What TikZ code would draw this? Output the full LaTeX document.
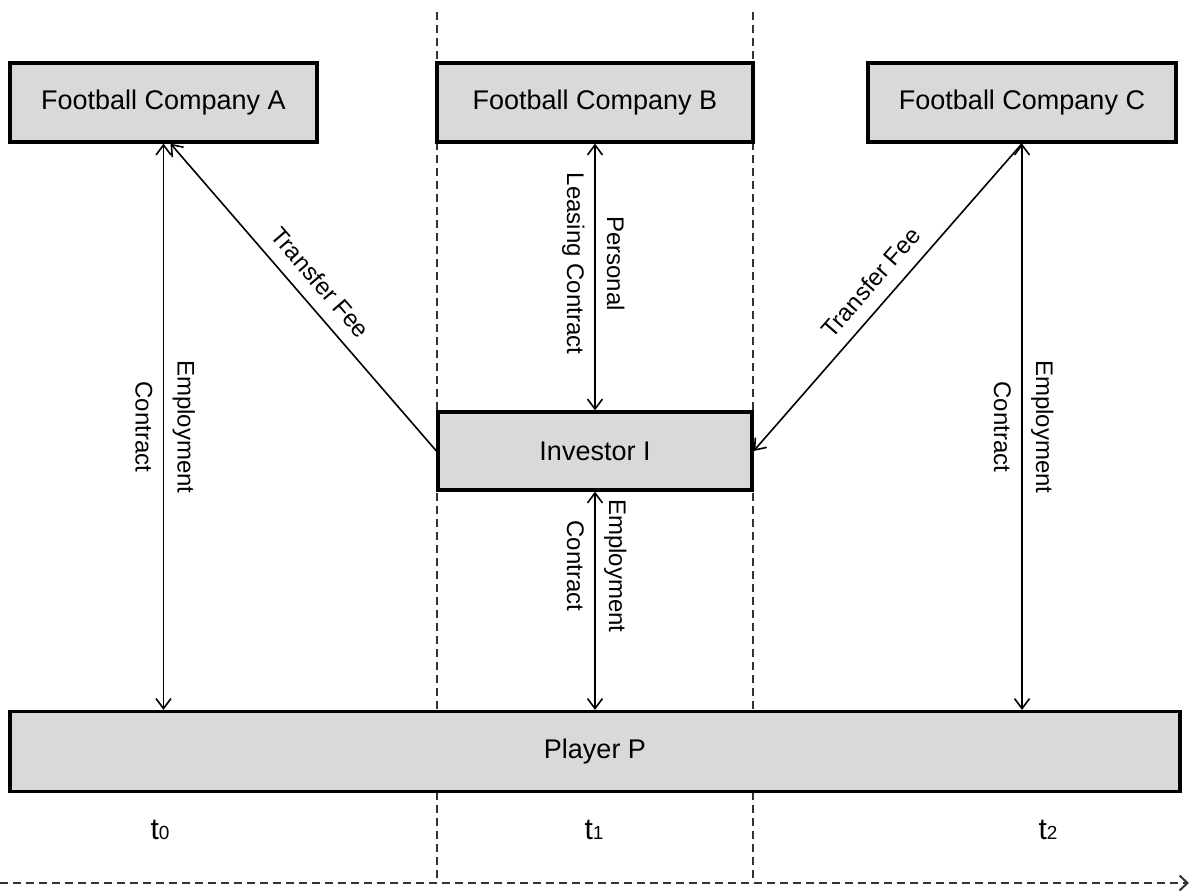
\documentclass[tikz,border=0pt]{standalone}
\usepackage{fontspec}
\setmainfont{Liberation Sans}
\usetikzlibrary{arrows.meta}
\definecolor{boxgray}{HTML}{D9D9D9}
\definecolor{dashgray}{HTML}{333333}
\begin{document}
\begin{tikzpicture}[x=1pt,y=-1pt,
  box/.style={draw=black, line width=3.2pt, fill=boxgray, inner sep=0pt,
    font=\fontsize{27}{32}\selectfont},
  barb/.tip={Straight Barb[length=10pt,width=15pt]},
  conn/.style={line width=1.6pt, barb-barb},
  oneway/.style={line width=1.6pt, -barb},
  lbl/.style={font=\fontsize{24}{28}\selectfont, inner sep=0pt, anchor=base, rotate=-90},
  feelbl/.style={font=\fontsize{24}{28}\selectfont, midway, sloped, above, inner sep=13pt},
  dashline/.style={draw=dashgray, line width=2pt, dash pattern=on 8pt off 5pt},
  tlbl/.style={font=\fontsize{30}{34}\selectfont, inner sep=0pt, anchor=base}
]
\useasboundingbox (0,0) rectangle (1192,891);

% time separators
\draw[dashline] (437,12) -- (437,883);
\draw[dashline] (753,12) -- (753,883);
\draw[dashline, -{Straight Barb[length=8pt,width=15pt]}] (0,883) -- (1189,883);

% boxes
\node[box, minimum width=307pt, minimum height=79pt] (A) at (163.5,102.5) {Football Company A};
\node[box, minimum width=316pt, minimum height=79pt] (B) at (595,102.5) {Football Company B};
\node[box, minimum width=308pt, minimum height=79pt] (C) at (1022,102.5) {Football Company C};
\node[box, minimum width=314pt, minimum height=78pt] (I) at (595,451) {Investor I};
\node[box, minimum width=1170pt, minimum height=80pt] (P) at (595,751.5) {Player P};

% vertical contracts
\draw[conn] (A.south) -- (A.south |- P.north) coordinate[midway] (mA);
\node[lbl] (eA) at ([xshift=14pt]mA) {Employment};
\node[lbl] (cA) at ([xshift=-28pt]mA) {Contract};

\draw[conn] (B.south) -- (I.north) coordinate[pos=0.45] (mB);
\node[lbl] (pB) at ([xshift=12pt]mB) {Personal};
\node[lbl] (lB) at ([xshift=-28pt]mB) {Leasing Contract};

\draw[conn] (I.south) -- (I.south |- P.north) coordinate[pos=0.34] (mI);
\node[lbl] (eI) at ([xshift=14pt]mI) {Employment};
\node[lbl] (cI) at ([xshift=-28pt]mI) {Contract};

\draw[conn] (C.south) -- (C.south |- P.north) coordinate[midway] (mC);
\node[lbl] (eC) at ([xshift=14pt]mC) {Employment};
\node[lbl] (cC) at ([xshift=-28pt]mC) {Contract};

% transfer fees
\coordinate (tA) at ([xshift=7pt]A.south);
\draw[oneway] (I.west) -- (tA) node[feelbl] (fA) {Transfer Fee};
\draw[oneway] (C.south) -- (I.east) node[feelbl] (fC) {Transfer Fee};

% time labels
\node[tlbl] (t0) at (160,839) {t{\fontsize{19}{22}\selectfont 0}};
\node[tlbl] (t1) at (594,839) {t{\fontsize{19}{22}\selectfont 1}};
\node[tlbl] (t2) at (1048,839) {t{\fontsize{19}{22}\selectfont 2}};
\end{tikzpicture}
\end{document}
